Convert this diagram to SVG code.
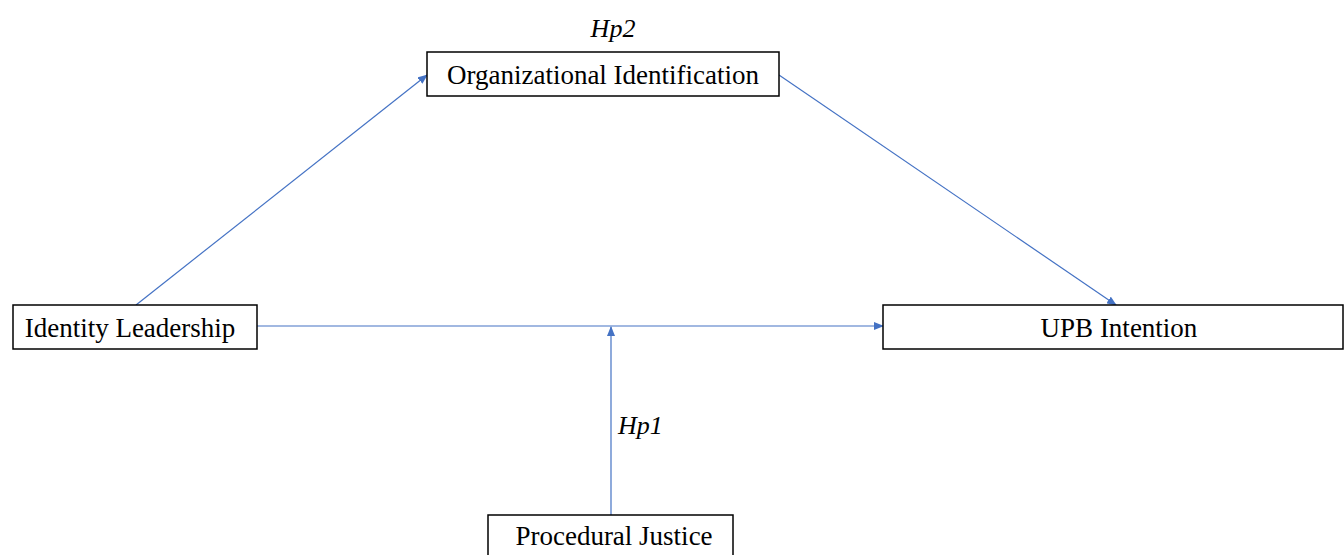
<svg xmlns="http://www.w3.org/2000/svg" width="1344" height="555" viewBox="0 0 1344 555">
<style>
.box{fill:#fff;stroke:#000;stroke-width:1.5}
.lbl{font-family:"Liberation Serif","Times New Roman",serif;font-size:27px;fill:#000;text-anchor:middle}
.hp{font-family:"Liberation Serif","Times New Roman",serif;font-style:italic;font-size:26px;fill:#000}
.con{stroke:#4472C4;stroke-width:1.2;fill:none;marker-end:url(#ah)}
</style>
<defs>
<marker id="ah" markerWidth="10" markerHeight="8" refX="9" refY="4" orient="auto" markerUnits="userSpaceOnUse">
<path d="M0,0 L10,4 L0,8 Z" fill="#4472C4"/>
</marker>
</defs>
<rect width="1344" height="555" fill="#fff"/>
<g id="connectors">
<line class="con" x1="136" y1="305" x2="427" y2="75"/>
<line class="con" x1="779" y1="75" x2="1116" y2="305"/>
<line class="con" x1="257" y1="326" x2="883" y2="326"/>
<line class="con" x1="611" y1="515" x2="611" y2="327"/>
</g>
<g id="hp2"><text class="hp" x="613" y="37" text-anchor="middle">Hp2</text></g>
<g id="hp1"><text class="hp" x="618" y="434">Hp1</text></g>
<g id="org">
<rect class="box" x="427" y="52" width="352" height="44"/>
<text class="lbl" x="603" y="84">Organizational Identification</text>
</g>
<g id="idl">
<rect class="box" x="13" y="305" width="244" height="44"/>
<text class="lbl" x="130" y="337">Identity Leadership</text>
</g>
<g id="upb">
<rect class="box" x="883" y="305" width="460" height="44"/>
<text class="lbl" x="1119" y="337">UPB Intention</text>
</g>
<g id="pj">
<rect class="box" x="488" y="515" width="245" height="44"/>
<text class="lbl" x="614" y="545">Procedural Justice</text>
</g>
</svg>
